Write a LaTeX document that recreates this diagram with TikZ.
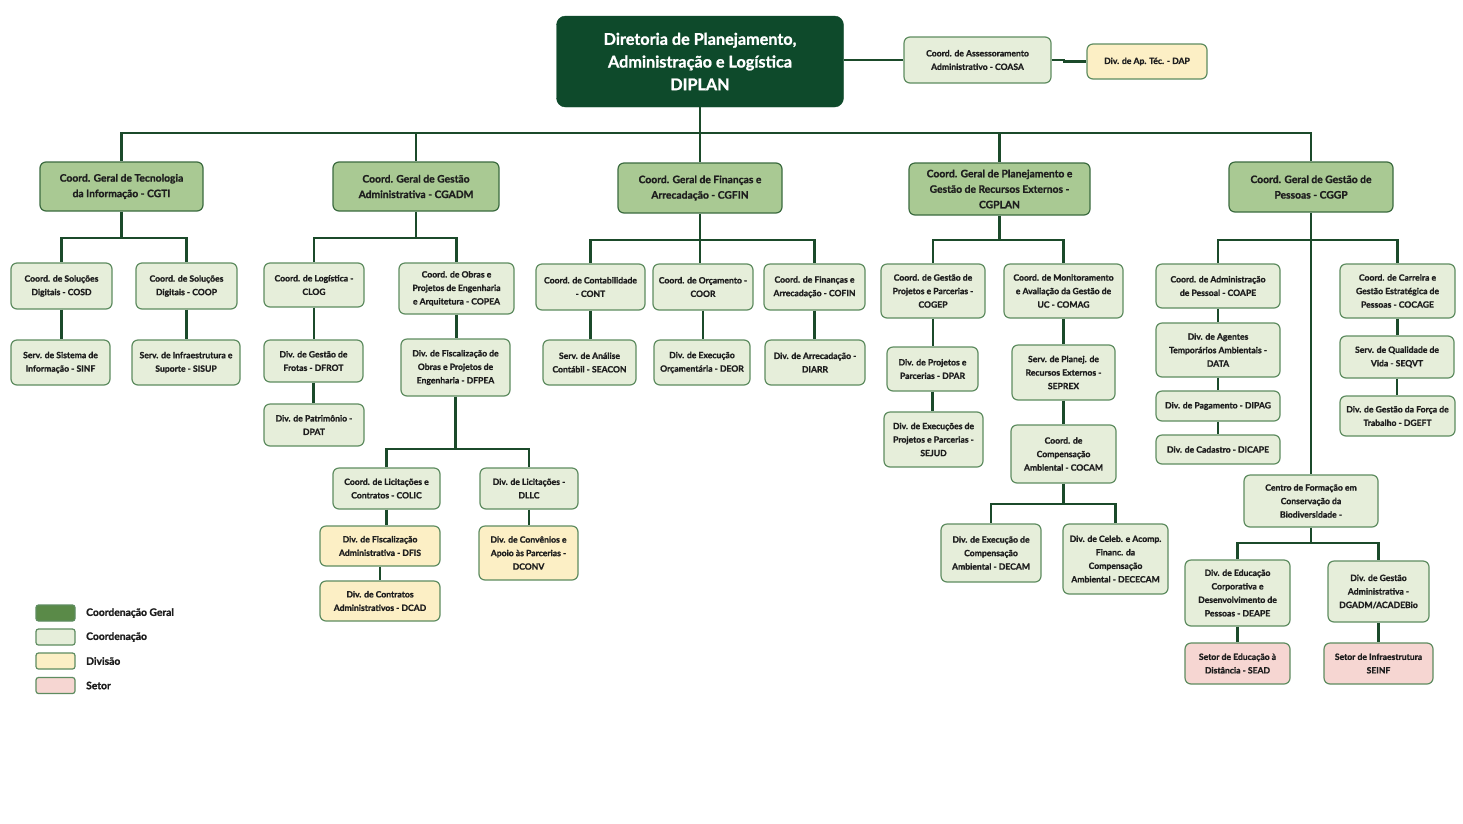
\documentclass[tikz,border=0pt]{standalone}
\usepackage{fontspec}
\setmainfont{Lato}[BoldFont={Lato Bold},BoldFeatures={FakeBold=1.2}]
\definecolor{dipfill}{HTML}{0E4A2B}
\definecolor{cgfill}{HTML}{A9C993}
\definecolor{cgbord}{HTML}{3B6B3F}
\definecolor{cofill}{HTML}{E6EEDA}
\definecolor{cobord}{HTML}{5E8C60}
\definecolor{dvfill}{HTML}{FCEFC5}
\definecolor{stfill}{HTML}{F6D6D2}
\definecolor{lgcg}{HTML}{5A8A48}
\definecolor{lnc}{HTML}{1B4A2A}
\definecolor{txt}{HTML}{1E1E1E}
\tikzset{
  sz/.style 2 args={minimum width=#1pt, minimum height=#2pt},
  base/.style={rounded corners=6pt, draw=cobord, line width=1.2pt, align=center, inner sep=1pt, text=txt,
    font=\fontsize{8.6}{13.5}\selectfont\bfseries},
  cgbox/.style={base, fill=cgfill, draw=cgbord, font=\fontsize{10.3}{15.5}\selectfont\bfseries},
  cobox/.style={base, fill=cofill},
  dvbox/.style={base, fill=dvfill},
  stbox/.style={base, fill=stfill},
  dipbox/.style={rounded corners=9pt, fill=dipfill, draw=dipfill, text=white, align=center,
    font=\fontsize{16.2}{22.7}\selectfont\bfseries},
  lgbox/.style={rounded corners=2.5pt, draw=cobord, line width=1.2pt, minimum width=39pt, minimum height=16pt, inner sep=0pt},
  lgtxt/.style={anchor=west, text=txt, font=\fontsize{10.3}{12}\selectfont\bfseries, inner sep=0pt},
  ln/.style={draw=lnc, line width=2.2pt}
}
\begin{document}
\begin{tikzpicture}[x=1pt,y=-1pt]
\useasboundingbox[fill=white] (0,0) rectangle (1463,823);
% top
\node[dipbox, sz={287}{91}] (diplan) at (700,61.5) {Diretoria de Planejamento,\\Administração e Logística\\DIPLAN};
\node[cobox, sz={147}{46}] (coasa) at (977.5,60) {Coord. de Assessoramento\\Administrativo - COASA};
\node[dvbox, sz={120}{35}] (dap) at (1147,61.5) {Div. de Ap. Téc. - DAP};
% CG
\node[cgbox, sz={163}{49}] (cgti) at (121.5,186.5) {Coord. Geral de Tecnologia\\da Informação - CGTI};
\node[cgbox, sz={166}{49}] (cgadm) at (416,186.5) {Coord. Geral de Gestão\\Administrativa - CGADM};
\node[cgbox, sz={164}{50}] (cgfin) at (700,188) {Coord. Geral de Finanças e\\Arrecadação - CGFIN};
\node[cgbox, sz={181}{52}] (cgplan) at (999.5,189) {Coord. Geral de Planejamento e\\Gestão de Recursos Externos -\\CGPLAN};
\node[cgbox, sz={164}{50}] (cggp) at (1311,187) {Coord. Geral de Gestão de\\Pessoas - CGGP};
% CGTI
\node[cobox, sz={101}{46}] (cosd) at (61.5,286) {Coord. de Soluções\\Digitais - COSD};
\node[cobox, sz={101}{46}] (coop) at (186.5,286) {Coord. de Soluções\\Digitais - COOP};
\node[cobox, sz={99}{45}] (sinf) at (60.5,362.5) {Serv. de Sistema de\\Informação - SINF};
\node[cobox, sz={108}{45}] (sisup) at (186,362.5) {Serv. de Infraestrutura e\\Suporte - SISUP};
% CGADM
\node[cobox, sz={100}{44}] (clog) at (314,285) {Coord. de Logística -\\CLOG};
\node[cobox, sz={115}{51}] (copea) at (456.5,288.5) {Coord. de Obras e\\Projetos de Engenharia\\e Arquitetura - COPEA};
\node[cobox, sz={99}{42}] (dfrot) at (313.5,361) {Div. de Gestão de\\Frotas - DFROT};
\node[cobox, sz={100}{42}] (dpat) at (314,425) {Div. de Patrimônio -\\DPAT};
\node[cobox, sz={109}{57}] (dfpea) at (455.5,367.5) {Div. de Fiscalização de\\Obras e Projetos de\\Engenharia - DFPEA};
\node[cobox, sz={107}{41}] (colic) at (386.5,488.5) {Coord. de Licitações e\\Contratos - COLIC};
\node[cobox, sz={98}{41}] (dllc) at (529,488.5) {Div. de Licitações -\\DLLC};
\node[dvbox, sz={120}{40}] (dfis) at (380,546) {Div. de Fiscalização\\Administrativa - DFIS};
\node[dvbox, sz={120}{40}] (dcad) at (380,601) {Div. de Contratos\\Administrativos - DCAD};
\node[dvbox, sz={99}{54}] (dconv) at (528.5,553) {Div. de Convênios e\\Apoio às Parcerias -\\DCONV};
% CGFIN
\node[cobox, sz={109}{46}] (cont) at (590.5,287) {Coord. de Contabilidade\\- CONT};
\node[cobox, sz={100}{46}] (coor) at (703,287) {Coord. de Orçamento -\\COOR};
\node[cobox, sz={101}{46}] (cofin) at (814.5,287) {Coord. de Finanças e\\Arrecadação - COFIN};
\node[cobox, sz={93}{45}] (seacon) at (589.5,362.5) {Serv. de Análise\\Contábil - SEACON};
\node[cobox, sz={96}{45}] (deor) at (702,362.5) {Div. de Execução\\Orçamentária - DEOR};
\node[cobox, sz={100}{45}] (diarr) at (815,362.5) {Div. de Arrecadação -\\DIARR};
% CGPLAN
\node[cobox, sz={104}{54}] (cogep) at (933,291) {Coord. de Gestão de\\Projetos e Parcerias -\\COGEP};
\node[cobox, sz={119}{54}] (comag) at (1063.5,291) {Coord. de Monitoramento\\e Avaliação da Gestão de\\UC - COMAG};
\node[cobox, sz={91}{44}] (dpar) at (932.5,369) {Div. de Projetos e\\Parcerias - DPAR};
\node[cobox, sz={99}{55}] (sejud) at (933.5,439.5) {Div. de Execuções de\\Projetos e Parcerias -\\SEJUD};
\node[cobox, sz={103}{55}] (seprex) at (1063.5,372.5) {Serv. de Planej. de\\Recursos Externos -\\SEPREX};
\node[cobox, sz={105}{58}] (cocam) at (1063.5,454) {Coord. de\\Compensação\\Ambiental - COCAM};
\node[cobox, sz={100}{58}] (decam) at (991,553) {Div. de Execução de\\Compensação\\Ambiental - DECAM};
\node[cobox, sz={105}{70}] (dececam) at (1115.5,559) {Div. de Celeb. e Acomp.\\Financ. da\\Compensação\\Ambiental - DECECAM};
% CGGP
\node[cobox, sz={124}{44}] (coape) at (1218,286) {Coord. de Administração\\de Pessoal - COAPE};
\node[cobox, sz={124}{54}] (data) at (1218,350) {Div. de Agentes\\Temporários Ambientais -\\DATA};
\node[cobox, sz={124}{30}] (dipag) at (1218,406) {Div. de Pagamento - DIPAG};
\node[cobox, sz={124}{29}] (dicape) at (1218,449.5) {Div. de Cadastro - DICAPE};
\node[cobox, sz={115}{54}] (cocage) at (1397.5,291) {Coord. de Carreira e\\Gestão Estratégica de\\Pessoas - COCAGE};
\node[cobox, sz={114}{42}] (seqvt) at (1397,357) {Serv. de Qualidade de\\Vida - SEQVT};
\node[cobox, sz={115}{40}] (dgeft) at (1397.5,416) {Div. de Gestão da Força de\\Trabalho - DGEFT};
\node[cobox, sz={134}{52}] (centro) at (1311,501) {Centro de Formação em\\Conservação da\\Biodiversidade -};
\node[cobox, sz={105}{66}] (deape) at (1237.5,593) {Div. de Educação\\Corporativa e\\Desenvolvimento de\\Pessoas - DEAPE};
\node[cobox, sz={101}{61}] (dgadm) at (1378.5,591.5) {Div. de Gestão\\Administrativa -\\DGADM/ACADEBio};
\node[stbox, sz={105}{41}] (sead) at (1237.5,663.5) {Setor de Educação à\\Distância - SEAD};
\node[stbox, sz={109}{41}] (seinf) at (1378.5,663.5) {Setor de Infraestrutura\\SEINF};
% legend
\node[lgbox, fill=lgcg] (lg1) at (55.5,613) {};
\node[lgbox, fill=cofill] (lg2) at (55.5,637) {};
\node[lgbox, fill=dvfill] (lg3) at (55.5,661) {};
\node[lgbox, fill=stfill] (lg4) at (55.5,685.5) {};
\node[lgtxt] (lt1) at (86,613) {Coordenação Geral};
\node[lgtxt] (lt2) at (86,637) {Coordenação};
\node[lgtxt] (lt3) at (86,661) {Divisão};
\node[lgtxt] (lt4) at (86,685.5) {Setor};
% bus coordinates
\coordinate (mb) at (0,133);
\coordinate (b1) at (0,238);
\coordinate (b2) at (0,240);
\coordinate (b3) at (0,449);
\coordinate (b4) at (0,504);
\coordinate (b5) at (0,543);
% connectors
\draw[ln] (diplan.east |- coasa.west) -- (coasa.west);
\draw[ln] (coasa.east) -- ++(12,0) |- (dap.west);
\draw[ln] (diplan.south) -- (cgfin.north);
\draw[ln] (diplan.south |- mb) -| (cgti.north);
\draw[ln] (diplan.south |- mb) -| (cgadm.north);
\draw[ln] (diplan.south |- mb) -| (cgplan.north);
\draw[ln] (diplan.south |- mb) -| (cggp.north);
% CGTI
\draw[ln] (cgti.south) -- (cgti.south |- b1) -| (cosd.north);
\draw[ln] (cgti.south |- b1) -| (coop.north);
\draw[ln] (cosd.south) -- (cosd.south |- sinf.north);
\draw[ln] (coop.south) -- (coop.south |- sisup.north);
% CGADM
\draw[ln] (cgadm.south) -- (cgadm.south |- b1) -| (clog.north);
\draw[ln] (cgadm.south |- b1) -| (copea.north);
\draw[ln] (clog.south) -- (clog.south |- dfrot.north);
\draw[ln] (dfrot.south) -- (dfrot.south |- dpat.north);
\draw[ln] (copea.south) -- (copea.south |- dfpea.north);
\draw[ln] (dfpea.south) -- (dfpea.south |- b3) -| (colic.north);
\draw[ln] (dfpea.south |- b3) -| (dllc.north);
\draw[ln] (colic.south) -- (colic.south |- dfis.north);
\draw[ln] (dfis.south) -- (dfis.south |- dcad.north);
\draw[ln] (dllc.south) -- (dllc.south |- dconv.north);
% CGFIN
\draw[ln] (cgfin.south) -- (coor.north -| cgfin.south);
\draw[ln] (cgfin.south |- b2) -| (cont.north);
\draw[ln] (cgfin.south |- b2) -| (cofin.north);
\draw[ln] (cont.south) -- (cont.south |- seacon.north);
\draw[ln] (coor.south) -- (coor.south |- deor.north);
\draw[ln] (cofin.south) -- (cofin.south |- diarr.north);
% CGPLAN
\draw[ln] (cgplan.south) -- (cgplan.south |- b2) -| (cogep.north);
\draw[ln] (cgplan.south |- b2) -| (comag.north);
\draw[ln] (cogep.south) -- (cogep.south |- dpar.north);
\draw[ln] (dpar.south) -- (dpar.south |- sejud.north);
\draw[ln] (comag.south) -- (comag.south |- seprex.north);
\draw[ln] (seprex.south) -- (seprex.south |- cocam.north);
\draw[ln] (cocam.south) -- (cocam.south |- b4) -| (decam.north);
\draw[ln] (cocam.south |- b4) -| (dececam.north);
% CGGP
\draw[ln] (cggp.south) -- (centro.north);
\draw[ln] (cggp.south |- b2) -| (coape.north);
\draw[ln] (cggp.south |- b2) -| (cocage.north);
\draw[ln] (coape.south) -- (coape.south |- data.north);
\draw[ln] (data.south) -- (data.south |- dipag.north);
\draw[ln] (dipag.south) -- (dipag.south |- dicape.north);
\draw[ln] (cocage.south) -- (cocage.south |- seqvt.north);
\draw[ln] (seqvt.south) -- (seqvt.south |- dgeft.north);
\draw[ln] (centro.south) -- (centro.south |- b5) -| (deape.north);
\draw[ln] (centro.south |- b5) -| (dgadm.north);
\draw[ln] (deape.south) -- (deape.south |- sead.north);
\draw[ln] (dgadm.south) -- (dgadm.south |- seinf.north);
\end{tikzpicture}
\end{document}
